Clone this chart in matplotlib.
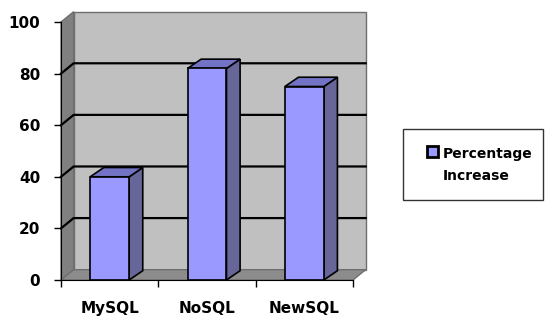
import matplotlib.pyplot as plt
from matplotlib.patches import Polygon, Rectangle, Patch
from matplotlib.legend_handler import HandlerPatch

categories = ["MySQL", "NoSQL", "NewSQL"]
values = [40, 82, 75]
series_name = "Percentage\nIncrease"
yticks = [0, 20, 40, 60, 80, 100]

plt.rcParams['font.family'] = ['DejaVu Sans']

fig = plt.figure(figsize=(5.45, 3.22), dpi=100)
ax = fig.add_axes([61/545, 42/322, 292/545, 258/322])
ax.set_xlim(-0.5, len(categories) - 0.5)
ax.set_ylim(0, 100)

# depth offset of the fake 3d box
dx, dy = 0.13, 4.0
x0, x1 = -0.5, len(categories) - 0.5
wall_edge = "#6e6e6e"

# back wall, side wall, floor
ax.add_patch(Polygon([(x0+dx, dy), (x1+dx, dy), (x1+dx, 100+dy), (x0+dx, 100+dy)],
                     closed=True, fc="#c0c0c0", ec=wall_edge, lw=1, clip_on=False, zorder=1))
ax.add_patch(Polygon([(x0, 0), (x0+dx, dy), (x0+dx, 100+dy), (x0, 100)],
                     closed=True, fc="#808080", ec=wall_edge, lw=1, clip_on=False, zorder=1))
ax.add_patch(Polygon([(x0, 0), (x1, 0), (x1+dx, dy), (x0+dx, dy)],
                     closed=True, fc="#8c8c8c", ec=wall_edge, lw=1, clip_on=False, zorder=1))

# gridlines on the walls
for v in yticks[1:-1]:
    ax.plot([x0, x0+dx, x1+dx], [v, v+dy, v+dy], color="black", lw=1.6,
            clip_on=False, zorder=2)

# bars
bw = 0.4
bdx, bdy = 0.14, 3.6
for i, v in enumerate(values):
    l, r = i - bw/2, i + bw/2
    ax.add_patch(Polygon([(r, 0), (r+bdx, bdy), (r+bdx, v+bdy), (r, v)],
                         closed=True, fc="#666699", ec="black", lw=1.2, clip_on=False, zorder=3))
    ax.add_patch(Polygon([(l, v), (r, v), (r+bdx, v+bdy), (l+bdx, v+bdy)],
                         closed=True, fc="#7373c6", ec="black", lw=1.2, clip_on=False, zorder=3))
    ax.add_patch(Rectangle((l, 0), bw, v, fc="#9999ff", ec="black", lw=1.2,
                           clip_on=False, zorder=4))

# axes
for s in ["top", "right"]:
    ax.spines[s].set_visible(False)
ax.spines["left"].set_color("black")
ax.spines["bottom"].set_color("black")
ax.spines["left"].set_zorder(5)
ax.spines["bottom"].set_zorder(5)
ax.patch.set_visible(False)
ax.set_yticks(yticks)
ax.set_yticklabels([str(t) for t in yticks], fontsize=11, fontweight="bold")
ax.tick_params(axis="y", length=5, width=1, pad=10)
ax.set_xticks([i - 0.5 for i in range(len(categories) + 1)])
ax.set_xticklabels([])
ax.set_xticks(range(len(categories)), minor=True)
ax.set_xticklabels(categories, minor=True, fontsize=11, fontweight="bold")
ax.tick_params(axis="x", which="major", length=5, width=1)
ax.tick_params(axis="x", which="minor", length=0, pad=15)


def top_square(legend, orig_handle, xdescent, ydescent, width, height, fontsize):
    s = fontsize * 0.78
    return Rectangle((-xdescent, -ydescent + fontsize*0.95), s, s)


# legend frame drawn separately so the padding can differ per side
fig.add_artist(Rectangle((403/545, 1 - 200/322), 140/545, 71/322,
                         transform=fig.transFigure, fill=False, ec="#333333", lw=1))
handle = Patch(fc="#9999ff", ec="black", lw=2)
leg = fig.legend([handle], [series_name], loc="center left",
                 bbox_to_anchor=(427/545, 1 - 165/322),
                 prop={"size": 10, "weight": "bold"},
                 handlelength=0.8, handleheight=0.65, handletextpad=0.3,
                 borderpad=0, borderaxespad=0, frameon=False,
                 handler_map={Patch: HandlerPatch(patch_func=top_square)})
leg.get_texts()[0].set_linespacing(1.75)

fig.savefig("out.png", dpi=100)
